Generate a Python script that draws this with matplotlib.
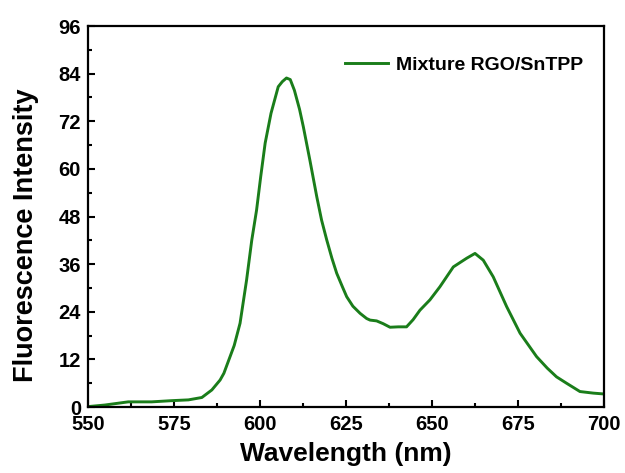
import matplotlib
matplotlib.use("Agg")
import matplotlib.pyplot as plt
from matplotlib.ticker import MultipleLocator

wavelength = [550.0, 554.9, 561.7, 568.5, 574.3, 579.2, 583.1, 586.0, 588.4, 589.5,
              591.3, 592.5, 594.2, 596.1, 597.6, 599.0, 600.2, 601.5, 603.2, 605.3,
              606.5, 607.7, 608.8, 610.0, 611.5, 612.6, 614.5, 616.5, 617.9, 619.4,
              620.9, 622.3, 624.0, 625.2, 627.0, 629.1, 631.0, 632.0, 633.9, 635.8,
              637.8, 640.2, 642.6, 644.5, 646.5, 649.4, 652.3, 656.2, 658.5, 660.1,
              662.5, 664.9, 667.8, 671.7, 675.6, 680.4, 683.5, 686.2, 689.1, 693.0,
              696.9, 699.8]
intensity = [0.1, 0.5, 1.3, 1.3, 1.6, 1.8, 2.4, 4.3, 6.8, 8.5,
             12.7, 15.5, 21.1, 32.0, 42.0, 49.6, 58.0, 66.5, 74.0, 80.7,
             82.0, 82.9, 82.5, 79.8, 75.0, 70.6, 62.2, 53.0, 47.1, 42.1,
             37.5, 33.7, 30.2, 27.8, 25.4, 23.6, 22.3, 21.9, 21.7, 21.0,
             20.1, 20.2, 20.2, 22.0, 24.4, 27.0, 30.3, 35.3, 36.6, 37.5,
             38.7, 37.0, 32.8, 25.3, 18.6, 12.7, 9.8, 7.6, 6.0, 3.9,
             3.5, 3.3]

series_label = "Mixture RGO/SnTPP"
x_label = "Wavelength (nm)"
y_label = "Fluorescence Intensity"

plt.rcParams['font.family'] = ['Liberation Sans', 'DejaVu Sans']
plt.rcParams['font.weight'] = 'bold'

fig = plt.figure(figsize=(6.25, 4.73), dpi=100)
ax = fig.add_axes([0.1408, 0.1395, 0.8256, 0.8055])

ax.plot(wavelength, intensity, color='#1a7d1a', lw=2.1, label=series_label)

ax.set_xlim(550, 700)
ax.set_ylim(0, 96)
ax.xaxis.set_major_locator(MultipleLocator(25))
ax.xaxis.set_minor_locator(MultipleLocator(12.5))
ax.yaxis.set_major_locator(MultipleLocator(12))
ax.yaxis.set_minor_locator(MultipleLocator(6))

ax.tick_params(which='both', direction='in', top=False, right=False, width=1.5,
               labelsize=14.5)
ax.tick_params(axis='x', which='both', pad=6)
ax.tick_params(axis='y', which='both', pad=5)
ax.tick_params(which='major', length=5)
ax.tick_params(which='minor', length=3)
for lab in ax.get_xticklabels() + ax.get_yticklabels():
    lab.set_fontweight('bold')
for s in ax.spines.values():
    s.set_linewidth(1.6)

ax.set_xlabel(x_label, fontsize=19, fontweight='bold')
ax.set_ylabel(y_label, fontsize=19.5, fontweight='bold')
ax.xaxis.set_label_coords(0.5, -0.092)
ax.yaxis.set_label_coords(-0.095, 0.45)

leg = ax.legend(loc='upper right', frameon=False, fontsize=14,
                handlelength=2.2, handletextpad=0.4, borderaxespad=0,
                borderpad=0, bbox_to_anchor=(0.9593, 0.92))
for t in leg.get_texts():
    t.set_fontweight('bold')

fig.savefig('out.png', dpi=100)
